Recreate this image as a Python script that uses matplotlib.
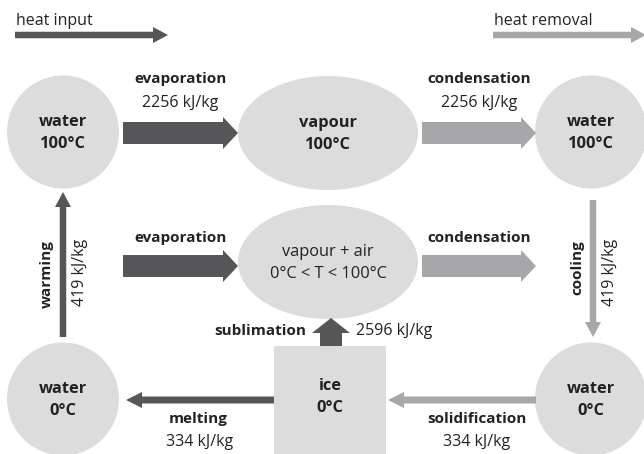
import matplotlib.pyplot as plt
from matplotlib.patches import Ellipse, Rectangle, FancyArrow

plt.rcParams['font.family'] = ['Open Sans', 'DejaVu Sans']

# states of water shown in the scheme
node_titles = ["water", "vapour", "water", "vapour + air", "water", "ice", "water"]
node_temps = ["100°C", "100°C", "100°C", "0°C < T < 100°C", "0°C", "0°C", "0°C"]
node_bold = [True, True, True, False, True, True, True]

# phase changes and their latent / sensible heats
proc_names = ["evaporation", "condensation", "evaporation", "condensation",
              "warming", "cooling", "sublimation", "melting", "solidification"]
proc_heat = ["2256 kJ/kg", "2256 kJ/kg", "", "", "419 kJ/kg", "419 kJ/kg",
             "2596 kJ/kg", "334 kJ/kg", "334 kJ/kg"]
proc_kind = ["input", "removal", "input", "removal", "input", "removal",
             "input", "input", "removal"]

legend_labels = ["heat input", "heat removal"]

DARK = "#565658"
LIGHT = "#a7a7a9"
FILL = "#dcdcdd"
TXT = "#222222"
FSB = 11      # bold labels
FSR = 11.5    # regular labels
FSN = 11.8    # node labels

fig = plt.figure(figsize=(6.44, 4.54), dpi=100)
ax = fig.add_axes([0, 0, 1, 1])
ax.set_xlim(0, 644)
ax.set_ylim(454, 0)
ax.axis("off")

# ---- shapes (layout in pixel coords)
shape_pos = [(63, 132, "c"), (328, 133, "e"), (591, 132, "c"), (328, 262, "e"),
             (63, 399, "c"), (330, 400, "r"), (591, 399, "c")]
for (x, y, kind), t1, t2, b in zip(shape_pos, node_titles, node_temps, node_bold):
    if kind == "c":
        ax.add_patch(Ellipse((x, y), 112, 113, color=FILL, lw=0))
    elif kind == "e":
        ax.add_patch(Ellipse((x, y), 180, 114, color=FILL, lw=0))
    else:
        ax.add_patch(Rectangle((274, 346), 112, 110, color=FILL, lw=0))
    fw = "bold" if b else "normal"
    dy = -4 if kind == "r" else 0
    ax.text(x, y - 10 + dy, t1, ha="center", va="center", fontsize=FSN,
            fontweight=fw, color=TXT)
    ax.text(x, y + 12 + dy, t2, ha="center", va="center", fontsize=FSN,
            fontweight=fw, color=TXT)


def block_arrow(x0, y0, x1, y1, w, hw, hl, color):
    ax.add_patch(FancyArrow(x0, y0, x1 - x0, y1 - y0, width=w, head_width=hw,
                            head_length=hl, length_includes_head=True,
                            color=color, lw=0))


col = {"input": DARK, "removal": LIGHT}

# ---- big horizontal arrows (top and middle rows)
big = [(123, 238, 133), (422, 536, 133), (123, 238, 266), (422, 536, 266)]
for i, (xa, xb, y) in enumerate(big):
    block_arrow(xa, y, xb, y, 22, 32, 15, col[proc_kind[i]])
    xc = (xa + xb) / 2
    if proc_heat[i]:
        ax.text(xc, y - 54, proc_names[i], ha="center", va="center",
                fontsize=FSB, fontweight="bold", color=TXT)
        ax.text(xc, y - 30, proc_heat[i], ha="center", va="center",
                fontsize=FSR, color=TXT)
    else:
        ax.text(xc, y - 28, proc_names[i], ha="center", va="center",
                fontsize=FSB, fontweight="bold", color=TXT)

# ---- vertical thin arrows: warming (up) and cooling (down)
block_arrow(63, 337, 63, 192, 6.5, 16, 15, col[proc_kind[4]])
ax.text(47, 274, proc_names[4], rotation=90, ha="center", va="center",
        fontsize=FSB, fontweight="bold", color=TXT)
ax.text(80, 272, proc_heat[4], rotation=90, ha="center", va="center",
        fontsize=FSR, color=TXT)

block_arrow(593, 200, 593, 337, 6.5, 16, 15, col[proc_kind[5]])
ax.text(577, 268, proc_names[5], rotation=90, ha="center", va="center",
        fontsize=FSB, fontweight="bold", color=TXT)
ax.text(610, 272, proc_heat[5], rotation=90, ha="center", va="center",
        fontsize=FSR, color=TXT)

# ---- sublimation (up from ice)
block_arrow(331, 346, 331, 318, 22, 38, 15, col[proc_kind[6]])
ax.text(306, 331, proc_names[6], ha="right", va="center", fontsize=FSB,
        fontweight="bold", color=TXT)
ax.text(356, 331, proc_heat[6], ha="left", va="center", fontsize=FSR,
        color=TXT)

# ---- melting (ice -> water 0°C) and solidification (water -> ice)
block_arrow(274, 400, 126, 400, 7, 16, 16, col[proc_kind[7]])
ax.text(198, 419, proc_names[7], ha="center", va="center", fontsize=FSB,
        fontweight="bold", color=TXT)
ax.text(200, 442, proc_heat[7], ha="center", va="center", fontsize=FSR,
        color=TXT)

block_arrow(536, 400, 388, 400, 7, 16, 16, col[proc_kind[8]])
ax.text(477, 419, proc_names[8], ha="center", va="center", fontsize=FSB,
        fontweight="bold", color=TXT)
ax.text(477, 442, proc_heat[8], ha="center", va="center", fontsize=FSR,
        color=TXT)

# ---- legend arrows
ax.text(16, 21, legend_labels[0], ha="left", va="center", fontsize=FSR,
        color=TXT)
block_arrow(15, 35, 168, 35, 6.5, 16, 15, DARK)
ax.text(494, 21, legend_labels[1], ha="left", va="center", fontsize=FSR,
        color=TXT)
block_arrow(493, 35, 646, 35, 6.5, 16, 15, LIGHT)

fig.savefig("out.png", dpi=100, facecolor="white")
